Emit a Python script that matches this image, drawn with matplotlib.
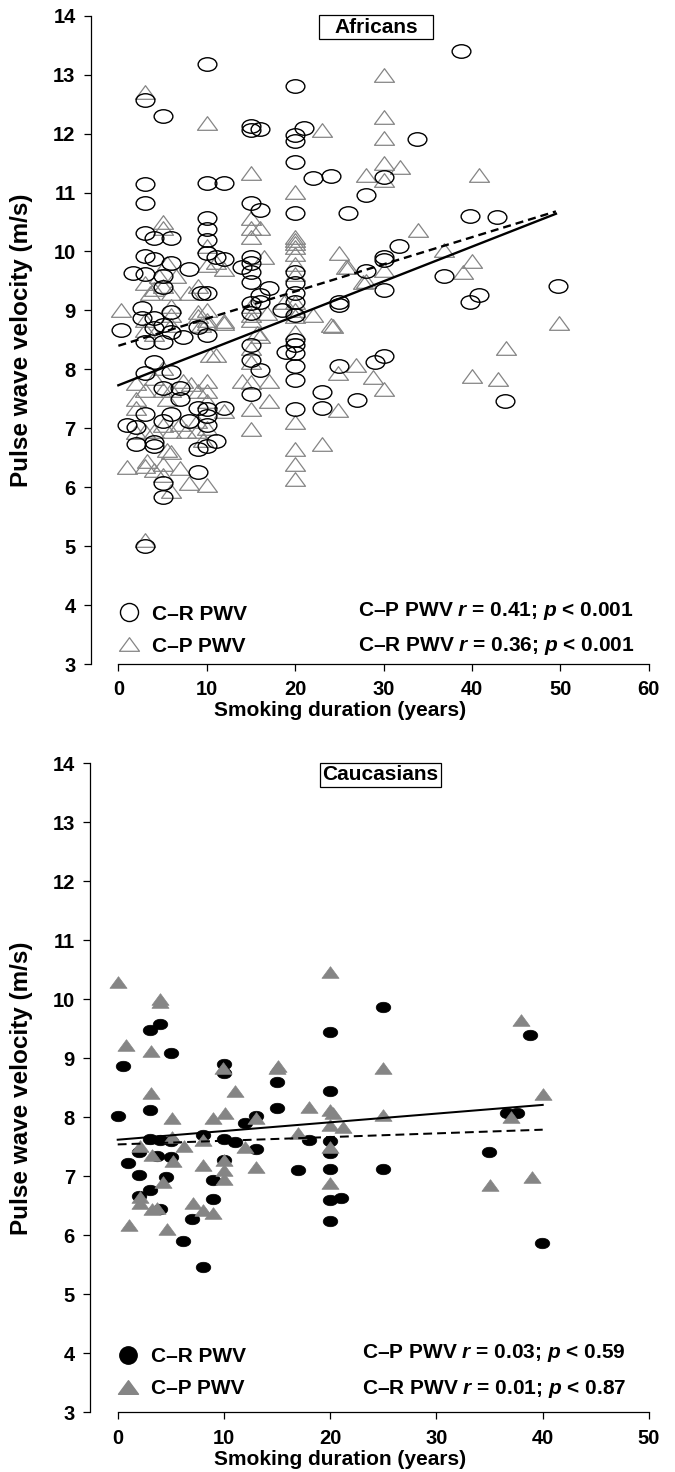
import numpy as np
import matplotlib
matplotlib.use("Agg")
import matplotlib.pyplot as plt
from matplotlib.path import Path
from matplotlib.transforms import Affine2D
from matplotlib.lines import Line2D
from matplotlib.patches import Rectangle


# data (years, m/s)

africans_cr_x = [
    0.3, 1, 2, 2, 1.7, 3, 5, 10, 15, 15, 16, 20, 20, 21, 20, 20, 22, 24, 28, 26,
    3, 3, 10, 12, 15, 16, 20, 10, 10, 10, 3, 4, 6, 3, 4, 6, 8, 3, 5, 5,
    10, 11, 12, 14, 15, 15, 15, 15, 15, 15, 16, 17, 16, 18.5, 20, 20, 20, 20, 20, 25,
    25, 28, 30, 30, 30,
    2.7, 2.7, 4, 5, 6, 4, 9.3, 10,
    3, 5, 6, 7.3, 10, 9, 3, 4, 6, 5, 7, 7, 6, 3, 9, 10, 12, 5, 8, 10,
    10, 4, 4, 9, 10, 11, 9, 5, 5, 3,
    15, 15, 16, 15, 20, 20, 20, 20, 20, 19, 20, 25, 23, 23, 27, 29, 30,
    38.8, 33.8, 30, 39.8, 42.8, 31.8, 36.8, 49.7, 39.8, 40.8, 43.7,
]
africans_cr_y = [
    8.66, 7.05, 7.02, 6.74, 9.63, 12.57, 12.3, 13.18, 12.13, 12.06, 12.08, 12.81, 11.97, 12.09, 11.87, 11.51, 11.24, 11.28, 10.96, 10.66,
    11.15, 10.83, 11.17, 11.17, 10.82, 10.71, 10.65, 10.56, 10.39, 10.19, 10.31, 10.23, 10.23, 9.93, 9.87, 9.8, 9.7, 9.62, 9.58, 9.4,
    9.98, 9.91, 9.88, 9.74, 9.91, 9.8, 9.66, 9.49, 9.12, 8.95, 9.15, 9.38, 9.26, 9.0, 9.66, 9.46, 9.29, 9.15, 8.92, 9.1,
    9.15, 9.67, 9.91, 9.85, 9.35,
    9.04, 8.87, 8.87, 8.75, 8.98, 8.7, 9.29, 9.29,
    8.47, 8.47, 8.64, 8.55, 8.58, 8.72, 7.93, 8.13, 7.96, 7.68, 7.68, 7.49, 7.25, 7.25, 7.34, 7.32, 7.34, 7.13, 7.13, 7.05,
    7.2, 6.77, 6.7, 6.65, 6.7, 6.79, 6.26, 6.07, 5.84, 5.0,
    8.42, 8.16, 7.99, 7.59, 8.5, 8.42, 8.28, 8.05, 7.82, 8.3, 7.32, 8.06, 7.62, 7.34, 7.48, 8.12, 8.23,
    13.4, 11.91, 11.27, 10.6, 10.58, 10.1, 9.59, 9.42, 9.15, 9.27, 7.46,
]

africans_cp_x = [
    3, 10, 23, 30, 30, 30, 30, 30, 28, 15, 20, 15, 15, 16, 15, 20, 20, 20, 20, 20,
    20, 5, 5, 10, 10, 11, 12, 16.5, 20, 25, 26, 28, 30, 5.5, 6.5, 4.6, 3, 4, 5, 6,
    9, 8, 0.3, 3.6, 9, 10, 12, 15, 15, 16.8, 18.7, 20, 20, 22, 24,
    6, 10, 12, 15, 15.7, 20, 20, 20, 23, 20, 20, 20, 15, 15, 17, 17, 15, 15, 14, 15,
    16, 9.3, 10.4, 11, 10, 12,
    1, 3, 4, 5, 6, 8, 10, 3, 2, 5.5, 6, 3, 2, 2, 3, 2, 4, 5, 5.5, 5,
    6, 7.3, 8.2, 10, 9, 10, 7, 7.7, 8.9, 8.9, 9.6, 10, 4, 5, 6, 3.2, 5, 7, 3, 3,
    4, 6, 6, 9, 10,
    31.9, 40.8, 33.9, 36.8, 40, 39, 27.7, 24.3, 49.8, 43.9, 26.9, 28.8, 24.9, 30, 40, 42.9, 24.9, 25.8,
]
africans_cp_y = [
    12.71, 12.18, 12.06, 12.99, 12.28, 11.93, 11.5, 11.22, 11.3, 11.33, 11.01, 10.56, 10.4, 10.4, 10.25, 10.25, 10.2, 10.14, 10.08, 9.95,
    9.78, 10.5, 10.4, 10.1, 9.77, 9.83, 9.7, 9.9, 9.62, 9.97, 9.74, 9.5, 9.69, 9.8, 9.58, 9.58, 9.47, 9.36, 9.41, 9.3,
    9.41, 9.3, 9.0, 9.3, 8.98, 8.84, 8.82, 9.07, 8.93, 8.95, 9.15, 9.15, 9.0, 8.92, 8.75,
    9.08, 9.0, 8.78, 8.83, 8.61, 8.9, 8.64, 7.1, 6.74, 6.65, 6.4, 6.14, 8.13, 7.79, 7.8, 7.46, 7.32, 6.98, 7.8, 8.36,
    8.56, 8.75, 8.24, 8.24, 7.64, 7.3,
    6.35, 6.36, 6.3, 6.2, 5.93, 6.07, 6.04, 5.1, 6.94, 6.63, 6.6, 6.95, 7.34, 7.5, 7.65, 7.76, 7.85, 7.65, 7.49, 8.02,
    7.65, 7.8, 7.75, 7.8, 7.64, 7.47, 7.08, 6.95, 7.12, 6.95, 6.8, 7.0, 6.95, 7.05, 6.95, 6.45, 6.4, 6.33, 8.83, 8.66,
    8.6, 8.92, 8.75, 8.9, 8.78,
    11.43, 11.3, 10.36, 10.02, 9.84, 9.65, 9.48, 8.74, 8.79, 8.36, 8.07, 7.87, 7.94, 7.66, 7.89, 7.83, 7.31, 9.73,
]

caucasians_cr_x = [
    0, 0.5, 1, 2, 2, 2, 3, 3, 4, 5, 3, 3.7, 3, 4, 4.5, 5, 5, 4, 6.1, 7,
    8, 9, 9, 10, 10, 10, 10, 11, 12, 13, 13, 15, 15, 17, 18, 20, 20, 20, 20, 20,
    20, 21, 20, 25, 25, 8, 38.8, 36.6, 37.6, 34.9, 39.9,
]
caucasians_cr_y = [
    8.02, 8.87, 7.22, 7.42, 7.02, 6.67, 8.12, 9.48, 9.58, 9.09, 7.63, 7.35, 6.76, 6.45, 6.98, 7.33, 7.6, 7.62, 5.9, 6.27,
    7.7, 6.93, 6.61, 8.9, 8.75, 7.63, 7.28, 7.58, 7.91, 8.03, 7.46, 8.6, 8.16, 7.1, 7.62, 9.44, 8.44, 7.6, 7.4, 7.12,
    6.6, 6.63, 6.25, 9.87, 7.13, 5.46, 9.4, 8.08, 8.08, 7.42, 5.87,
]

caucasians_cp_x = [
    0, 0.8, 4, 4, 3.1, 3.1, 1.1, 2.1, 2.1, 3.2, 3.7, 3.2, 4.3, 4.6, 5.1, 5.1, 5.2, 6.2, 7.1, 8.05,
    9, 8.05, 8.05, 9, 10.1, 9.94, 10, 10, 10, 11, 12, 13, 13, 15.1, 15, 17, 18, 20, 20, 20,
    20, 20, 20.3, 21.2, 25, 25, 38, 40, 37, 35, 39, 2.1,
]
caucasians_cp_y = [
    10.3, 9.22, 10.0, 9.95, 9.12, 8.42, 6.18, 6.65, 6.55, 6.45, 6.47, 7.36, 6.9, 6.1, 7.98, 7.67, 7.26, 7.51, 6.55, 6.43,
    6.37, 7.19, 7.62, 7.98, 8.07, 8.84, 7.27, 7.1, 6.95, 8.45, 7.49, 7.16, 7.98, 8.87, 8.83, 7.74, 8.17, 10.46, 8.12, 7.87,
    7.5, 6.88, 8.07, 7.83, 8.83, 8.04, 9.65, 8.4, 8.0, 6.85, 6.98, 7.52,
]

# regression line end points
africans_fit_x = [0, 49.5]
africans_cr_fit = [7.73, 10.64]
africans_cp_fit = [8.40, 10.68]

caucasians_fit_x = [0, 40]
caucasians_cr_fit = [7.62, 8.21]
caucasians_cp_fit = [7.54, 7.79]

africans_stats = [
    "C\u2013P PWV $r$ = 0.41; $p$ < 0.001",
    "C\u2013R PWV $r$ = 0.36; $p$ < 0.001",
]
caucasians_stats = [
    "C\u2013P PWV $r$ = 0.03; $p$ < 0.59",
    "C\u2013R PWV $r$ = 0.01; $p$ < 0.87",
]


# style

plt.rcParams["font.family"] = ["Liberation Sans", "DejaVu Sans"]
plt.rcParams["font.weight"] = "bold"
plt.rcParams["mathtext.fontset"] = "custom"
plt.rcParams["mathtext.it"] = "Liberation Sans:italic:bold"
plt.rcParams["mathtext.rm"] = "Liberation Sans:bold"

GREY = "#858585"

# squashed marker shapes, as in the scanned figure
ellipse = Path.unit_circle().transformed(Affine2D().scale(1, 0.72))
triangle = Path(
    [(-1, -0.68), (1, -0.68), (0, 0.68), (-1, -0.68)],
    [Path.MOVETO, Path.LINETO, Path.LINETO, Path.CLOSEPOLY],
)


def style_axes(ax, xmax, xleft):
    ax.set_xlim(xleft, xmax)
    ax.set_ylim(3, 14)
    ax.spines["top"].set_visible(False)
    ax.spines["right"].set_visible(False)
    ax.spines["left"].set_bounds(3, 14)
    ax.spines["bottom"].set_bounds(0, xmax)
    ax.spines["left"].set_linewidth(0.9)
    ax.spines["bottom"].set_linewidth(0.9)
    ax.set_yticks(range(3, 15))
    ax.set_xticks(range(0, xmax + 1, 10))
    ax.tick_params(axis="both", direction="out", length=4.8, width=0.9,
                   labelsize=14.5)
    ax.tick_params(axis="y", pad=6)
    ax.tick_params(axis="x", pad=7)
    ax.set_ylabel("Pulse wave velocity (m/s)", fontsize=17.5,
                  fontweight="bold", va="center")
    ax.yaxis.set_label_coords(-0.123, 0.5)
    ax.set_xlabel("Smoking duration (years)", fontsize=15,
                  fontweight="bold", va="center")
    ax.xaxis.set_label_coords(0.447, -0.072)


def title_box(ax, label, x0, w):
    ax.add_patch(Rectangle((x0, 0.9641), w, 0.037, transform=ax.transAxes,
                           fill=False, edgecolor="black", linewidth=0.9,
                           clip_on=False))
    ax.text(x0 + w / 2, 0.9826, label, transform=ax.transAxes,
            ha="center", va="center", fontsize=15, fontweight="bold")


def stats_text(ax, lines, x, y0, y1):
    ax.text(x, y0, lines[0], transform=ax.transAxes, fontsize=15,
            fontweight="bold", va="baseline")
    ax.text(x, y1, lines[1], transform=ax.transAxes, fontsize=15,
            fontweight="bold", va="baseline")


fig = plt.figure(figsize=(6.75, 14.72), dpi=100)


# Africans

ax1 = fig.add_axes([0.1341, 0.5489, 0.8270, 0.4404])

ax1.plot(africans_cp_x, africans_cp_y, linestyle="none", marker=triangle,
         markersize=14.4, markerfacecolor="none", markeredgecolor=GREY,
         markeredgewidth=0.9)
ax1.plot(africans_cr_x, africans_cr_y, linestyle="none", marker=ellipse,
         markersize=13.5, markerfacecolor="none", markeredgecolor="black",
         markeredgewidth=1.0)

ax1.plot(africans_fit_x, africans_cr_fit, color="black", linewidth=1.7)
ax1.plot(africans_fit_x, africans_cp_fit, color="black", linewidth=1.7,
         dashes=(3.4, 2.1))

style_axes(ax1, 60, -3.15)
title_box(ax1, "Africans", 0.4094, 0.2042)
stats_text(ax1, africans_stats, 0.480, 0.0748, 0.0208)

handles = [
    Line2D([], [], linestyle="none", marker="o", markersize=13,
           markerfacecolor="none", markeredgecolor="black",
           markeredgewidth=1.0),
    Line2D([], [], linestyle="none", marker=triangle, markersize=14.4,
           markerfacecolor="none", markeredgecolor=GREY,
           markeredgewidth=0.9),
]
ax1.legend(handles, ["C\u2013R PWV", "C\u2013P PWV"], loc="lower left",
           bbox_to_anchor=(0.05, 0.013), frameon=False, fontsize=15,
           handlelength=1.0, handletextpad=0.6, labelspacing=0.62,
           borderpad=0, borderaxespad=0)


# Caucasians

ax2 = fig.add_axes([0.1333, 0.04056, 0.8281, 0.4409])

ax2.plot(caucasians_cr_x, caucasians_cr_y, linestyle="none", marker=ellipse,
         markersize=10.5, markerfacecolor="black", markeredgecolor="black",
         markeredgewidth=0.5)
ax2.plot(caucasians_cp_x, caucasians_cp_y, linestyle="none", marker=triangle,
         markersize=12.3, markerfacecolor=GREY, markeredgecolor=GREY,
         markeredgewidth=0.5)

ax2.plot(caucasians_fit_x, caucasians_cr_fit, color="black", linewidth=1.45)
ax2.plot(caucasians_fit_x, caucasians_cp_fit, color="black", linewidth=1.45,
         dashes=(4.4, 2.5))

style_axes(ax2, 50, -2.61)
title_box(ax2, "Caucasians", 0.4115, 0.2165)
stats_text(ax2, caucasians_stats, 0.486, 0.0844, 0.0279)

handles = [
    Line2D([], [], linestyle="none", marker="o", markersize=12.5,
           markerfacecolor="black", markeredgecolor="black"),
    Line2D([], [], linestyle="none", marker=triangle, markersize=14.4,
           markerfacecolor=GREY, markeredgecolor=GREY),
]
ax2.legend(handles, ["C\u2013R PWV", "C\u2013P PWV"], loc="lower left",
           bbox_to_anchor=(0.05, 0.022), frameon=False, fontsize=15,
           handlelength=1.0, handletextpad=0.6, labelspacing=0.62,
           borderpad=0, borderaxespad=0)

plt.savefig("out.png", dpi=100)
